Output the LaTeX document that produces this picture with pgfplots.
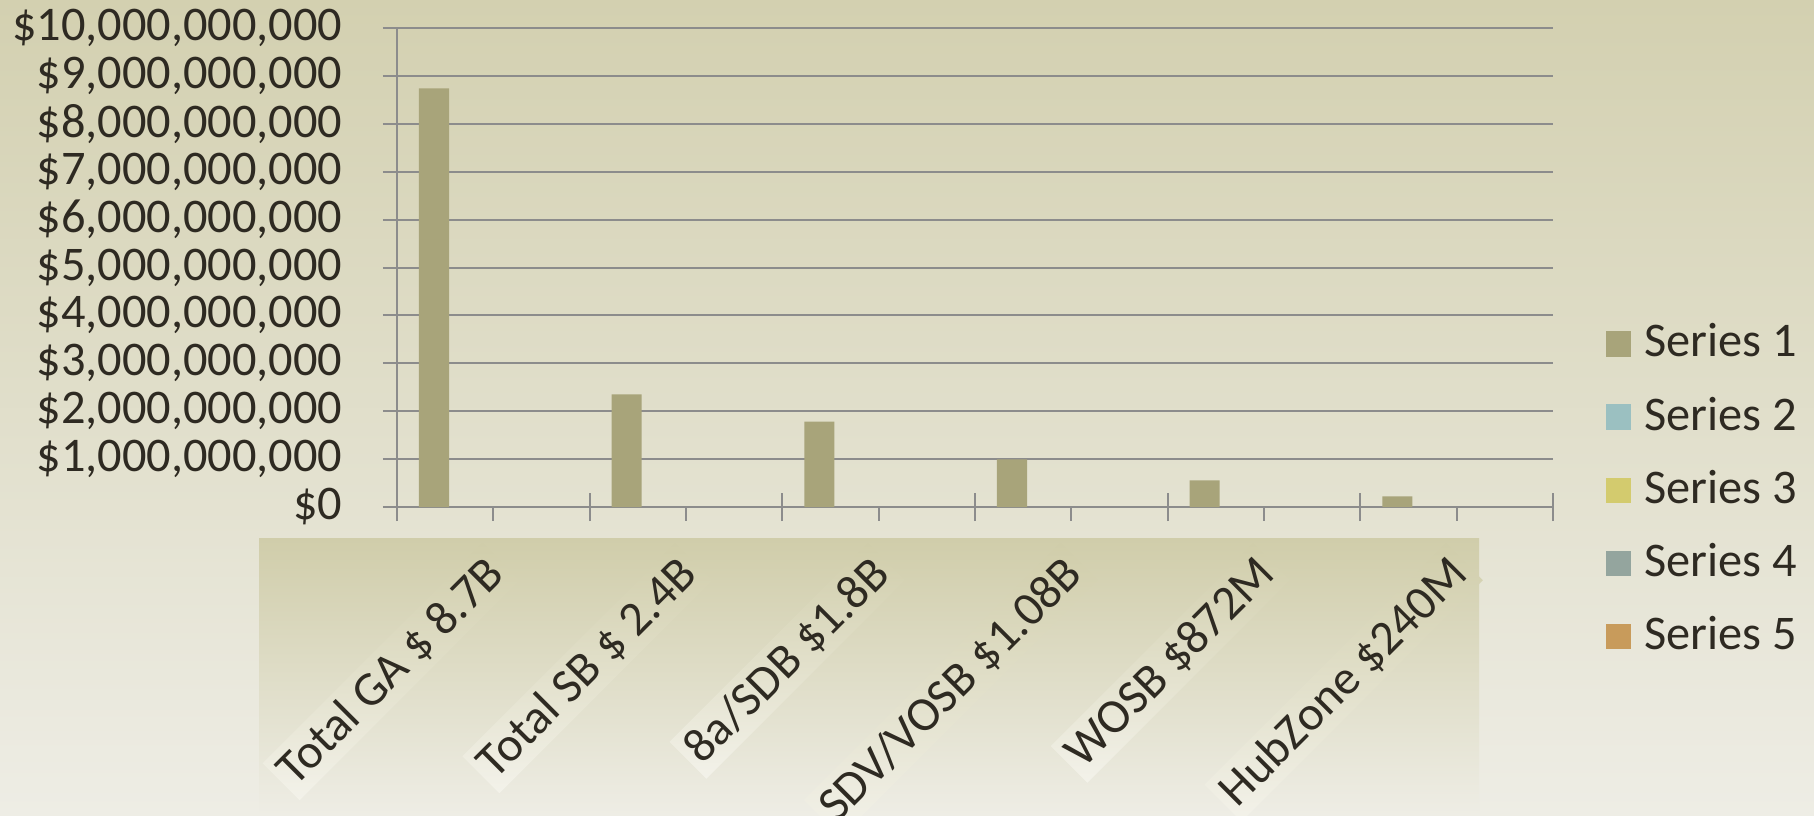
\documentclass[border=0pt]{standalone}
\usepackage{fontspec}
\setmainfont{Carlito}
\usepackage{pgfplots}
\pgfplotsset{compat=1.18}
\definecolor{bgtop}{HTML}{D3D0B0}
\definecolor{bgbot}{HTML}{EEEDE5}
\definecolor{gridc}{HTML}{8C8C8C}
\definecolor{txt}{HTML}{2E2A22}
\definecolor{sA}{HTML}{A8A47A}
\definecolor{sB}{HTML}{9BC0C1}
\definecolor{sC}{HTML}{D3CB6E}
\definecolor{sD}{HTML}{94A59E}
\definecolor{sE}{HTML}{C89B5B}
\definecolor{lbltop}{HTML}{D0CDAA}
\definecolor{lblbot}{HTML}{F3F2EA}
\begin{document}
\begin{tikzpicture}
\useasboundingbox (0,0) rectangle (544.2pt,244.5pt);
\clip (0,0) rectangle (544.2pt,244.5pt);
\fontsize{14.5}{17}\selectfont
\shade[top color=bgtop, bottom color=bgbot] (0,0) rectangle (544.2pt,244.5pt);
\shade[top color=lbltop, bottom color=bgbot] (77.7pt,0) rectangle (443.7pt,83.1pt);
\begin{axis}[
  at={(119.1pt,92.4pt)}, anchor=south west,
  width=346.8pt, height=143.7pt, scale only axis,
  clip=false,
  xmin=0, xmax=6, ymin=0, ymax=10000000000,
  axis lines*=left,
  axis line style={gridc, line width=0.6pt},
  tick style={gridc, line width=0.6pt},
  tick align=center, major tick length=8.4pt,
  xtick={0,1,2,3,4,5,6}, x tick label as interval,
  xticklabels={Total GA \$ 8.7B, Total SB \$ 2.4B, 8a/SDB \$1.8B, SDV/VOSB \$1.08B, WOSB \$872M, HubZone \$240M},
  ytick={0,1000000000,2000000000,3000000000,4000000000,5000000000,6000000000,7000000000,8000000000,9000000000,10000000000},
  yticklabels={{\$0},{\$1,000,000,000},{\$2,000,000,000},{\$3,000,000,000},{\$4,000,000,000},{\$5,000,000,000},{\$6,000,000,000},{\$7,000,000,000},{\$8,000,000,000},{\$9,000,000,000},{\$10,000,000,000}},
  scaled y ticks=false,
  ymajorgrids, grid style={gridc, line width=0.6pt},
  tick label style={font=\fontsize{14.5}{17}\selectfont, text=txt},
  yticklabel style={anchor=east, inner sep=0pt, xshift=-12pt},
  xticklabel style={rotate=45, anchor=east, top color=lbltop, bottom color=lblbot, inner sep=2pt, xshift=-6.8pt, yshift=-10.3pt},
  legend style={at={(1.045,0.035)}, anchor=west, draw=none, fill=none, inner sep=0pt, row sep=5.8pt, column sep=2pt, font=\fontsize{14.5}{17}\selectfont, text=txt},
  legend cell align=left,
]
\addplot[ybar, bar width=0.156, bar shift=0pt, fill=sA, draw=none, forget plot]
  coordinates {(0.192,8740000000) (1.192,2354000000) (2.192,1780000000) (3.192,997000000) (4.192,556000000) (5.192,220000000)};
\pgfplotsinvokeforeach{0.5,1.5,2.5,3.5,4.5,5.5}{\draw[gridc, line width=0.6pt] (axis cs:#1,0) -- ++(0pt,-4.2pt);}
\addlegendimage{legend image code/.code={\fill[sA] (0pt,-3.6pt) rectangle (7.2pt,3.6pt);}}
\addlegendentry{Series 1}
\addlegendimage{legend image code/.code={\fill[sB] (0pt,-3.6pt) rectangle (7.2pt,3.6pt);}}
\addlegendentry{Series 2}
\addlegendimage{legend image code/.code={\fill[sC] (0pt,-3.6pt) rectangle (7.2pt,3.6pt);}}
\addlegendentry{Series 3}
\addlegendimage{legend image code/.code={\fill[sD] (0pt,-3.6pt) rectangle (7.2pt,3.6pt);}}
\addlegendentry{Series 4}
\addlegendimage{legend image code/.code={\fill[sE] (0pt,-3.6pt) rectangle (7.2pt,3.6pt);}}
\addlegendentry{Series 5}
\end{axis}
\end{tikzpicture}
\end{document}
